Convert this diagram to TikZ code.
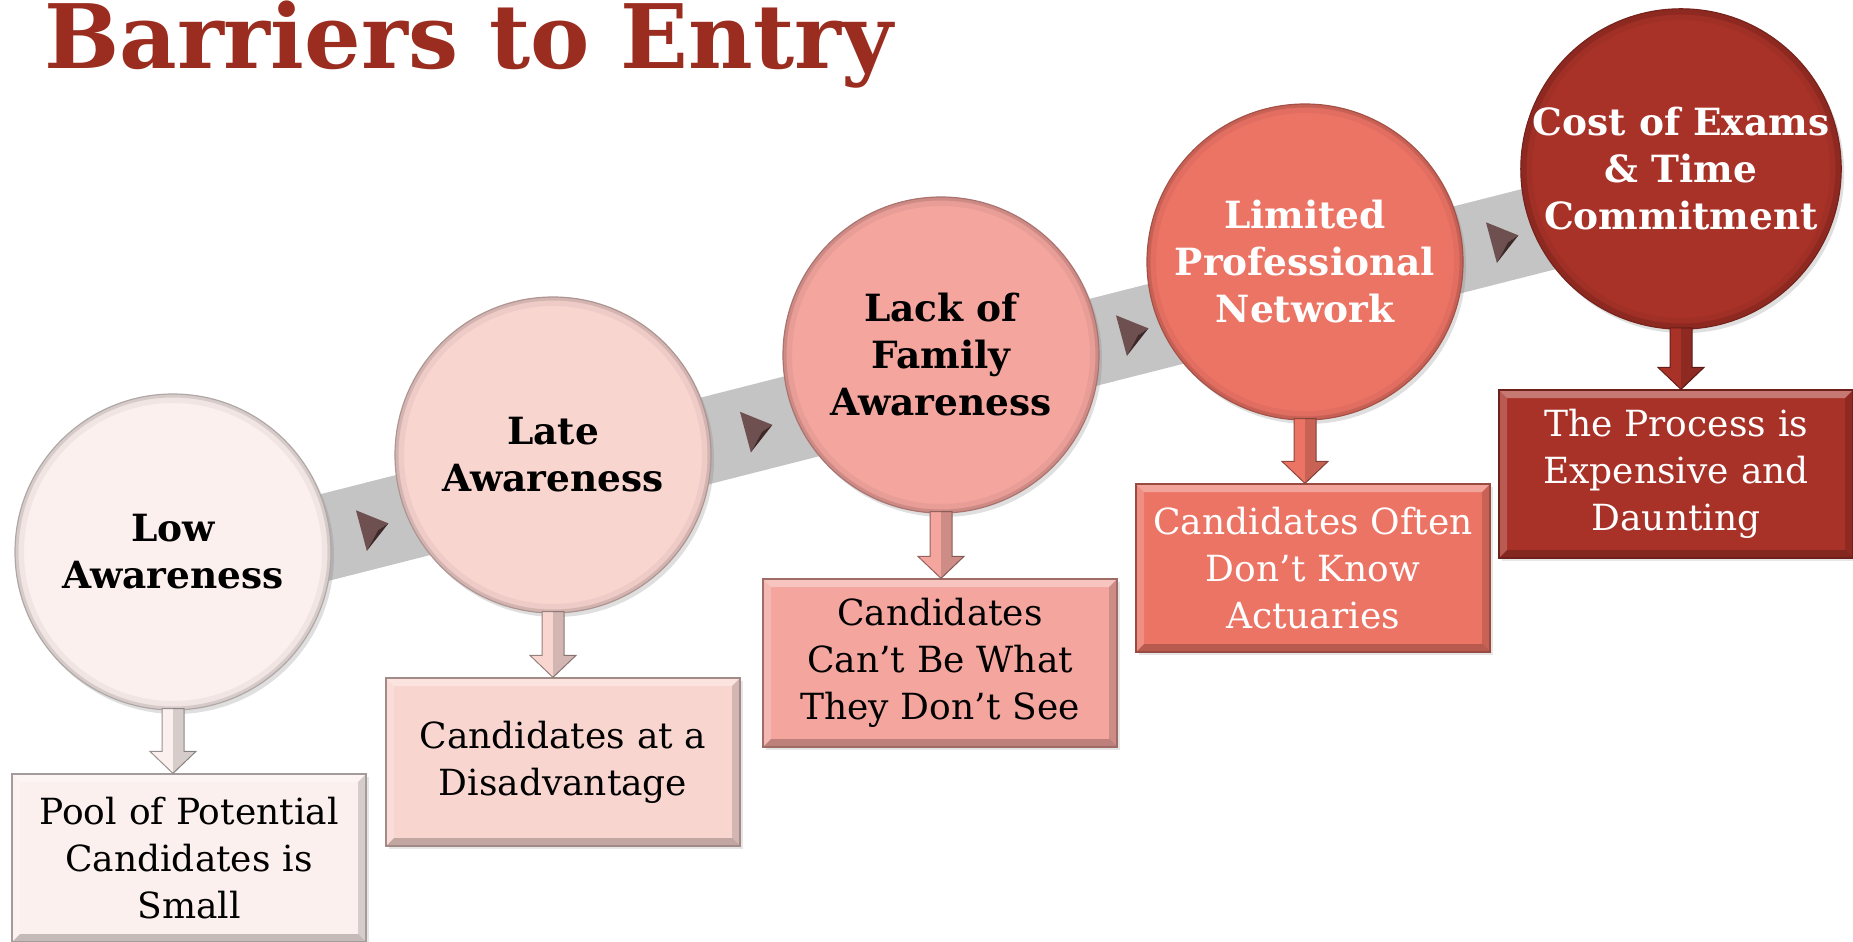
\documentclass[tikz,border=0pt]{standalone}
\usepackage{fontspec}
\setmainfont{DejaVu Serif}
\usetikzlibrary{calc,shadows,backgrounds}
\definecolor{titlered}{HTML}{9B2D20}
\definecolor{bandgray}{HTML}{C4C4C4}
\definecolor{colA}{HTML}{FCF0EE}
\definecolor{colB}{HTML}{F9D5D0}
\definecolor{colC}{HTML}{F3A59E}
\definecolor{colD}{HTML}{EC7465}
\definecolor{colE}{HTML}{A83228}
\definecolor{triA}{HTML}{6F5050}
\definecolor{triC}{HTML}{3E2828}
\tikzset{
  circ/.style={circle, minimum size=316pt, inner sep=0pt, align=center,
    fill=#1, draw=#1!70!black, line width=1.2pt,
    font=\bfseries\fontsize{37.5}{47}\selectfont,
    drop shadow={shadow xshift=3pt, shadow yshift=-4pt, opacity=0.25},
    path picture={
      \draw[line width=18pt, #1!80!black, opacity=0.22] (path picture bounding box.center) circle[radius=158pt];
      \draw[line width=7pt, #1!65!black, opacity=0.35] (path picture bounding box.center) circle[radius=158pt];
    }},
  bx/.style={rectangle, minimum width=354pt, minimum height=168pt, inner sep=0pt,
    text width=350pt, align=center, fill=#1, draw=#1!65!black, line width=1.2pt,
    font=\fontsize{36}{47}\selectfont,
    drop shadow={shadow xshift=3pt, shadow yshift=-3pt, opacity=0.2},
    path picture={
      \fill[white,opacity=.35] (path picture bounding box.north west) -- (path picture bounding box.north east)
        -- ([shift={(-8pt,-8pt)}]path picture bounding box.north east) -- ([shift={(8pt,-8pt)}]path picture bounding box.north west) -- cycle;
      \fill[white,opacity=.2] (path picture bounding box.north west) -- (path picture bounding box.south west)
        -- ([shift={(8pt,8pt)}]path picture bounding box.south west) -- ([shift={(8pt,-8pt)}]path picture bounding box.north west) -- cycle;
      \fill[black,opacity=.22] (path picture bounding box.south west) -- (path picture bounding box.south east)
        -- ([shift={(-8pt,8pt)}]path picture bounding box.south east) -- ([shift={(8pt,8pt)}]path picture bounding box.south west) -- cycle;
      \fill[black,opacity=.15] (path picture bounding box.north east) -- (path picture bounding box.south east)
        -- ([shift={(-8pt,8pt)}]path picture bounding box.south east) -- ([shift={(-8pt,-8pt)}]path picture bounding box.north east) -- cycle;
    }},
  tri/.pic={
    \fill[triA] (-12,-21) -- (16,0) -- (4,4) -- (-12,21) -- cycle;
    \fill[triC] (-12,21) -- (4,4) -- (16,0) -- cycle;
  }
}
\newcommand\dnarrow[3]{%
  \draw[fill=#3, draw=#3!60!black, line width=1pt]
    ($(#1.south)+(-11pt,2pt)$) -- ($(#1.south |- #2.north)+(-11pt,22pt)$)
    -- ($(#1.south |- #2.north)+(-23pt,22pt)$) -- (#1.south |- #2.north)
    -- ($(#1.south |- #2.north)+(23pt,22pt)$) -- ($(#1.south |- #2.north)+(11pt,22pt)$)
    -- ($(#1.south)+(11pt,2pt)$) -- cycle;
  \fill[black, opacity=0.15]
    ($(#1.south)+(0pt,2pt)$) -- (#1.south |- #2.north)
    -- ($(#1.south |- #2.north)+(23pt,22pt)$) -- ($(#1.south |- #2.north)+(11pt,22pt)$)
    -- ($(#1.south)+(11pt,2pt)$) -- cycle;}
\begin{document}
\begin{tikzpicture}[x=1pt,y=-1pt]
\useasboundingbox (0,0) rectangle (1853,942);
\node[anchor=base west, inner sep=0pt, text=titlered, font=\bfseries\fontsize{89}{100}\selectfont] (title) at (44,69) {Barriers to Entry};

\node[circ=colA] (c1) at (173,552) {Low\\Awareness};
\node[circ=colB] (c2) at (553,455) {Late\\Awareness};
\node[circ=colC] (c3) at (941,355) {Lack of\\Family\\Awareness};
\node[circ=colD, text=white] (c4) at (1305,262) {Limited\\Professional\\Network};
\node[circ=colE, text=white] (c5) at (1681,169) {Cost of Exams\\\& Time\\Commitment};

\begin{scope}[on background layer]
  \draw[line width=86pt, bandgray] ($(c1.center)+(0,-24pt)$) -- ($(c5.center)+(0,-24pt)$);
\end{scope}

\pic[rotate=15] at ($(c1)!0.5!(c2)+(10pt,-24pt)$) {tri};
\pic[rotate=15] at ($(c2)!0.5!(c3)+(10pt,-24pt)$) {tri};
\pic[rotate=15] at ($(c3)!0.5!(c4)+(10pt,-24pt)$) {tri};
\pic[rotate=15] at ($(c4)!0.5!(c5)+(10pt,-24pt)$) {tri};

\node[bx=colA] (b1) at (189,858) {Pool of Potential\\Candidates is\\Small};
\node[bx=colB] (b2) at (563,762) {Candidates at a\\Disadvantage};
\node[bx=colC] (b3) at (940,663) {Candidates\\Can’t Be What\\They Don’t See};
\node[bx=colD, text=white] (b4) at (1313,568) {Candidates Often\\Don’t Know\\Actuaries};
\node[bx=colE, text=white] (b5) at (1676,474) {The Process is\\Expensive and\\Daunting};

\dnarrow{c1}{b1}{colA}
\dnarrow{c2}{b2}{colB}
\dnarrow{c3}{b3}{colC}
\dnarrow{c4}{b4}{colD}
\dnarrow{c5}{b5}{colE}
\end{tikzpicture}
\end{document}
